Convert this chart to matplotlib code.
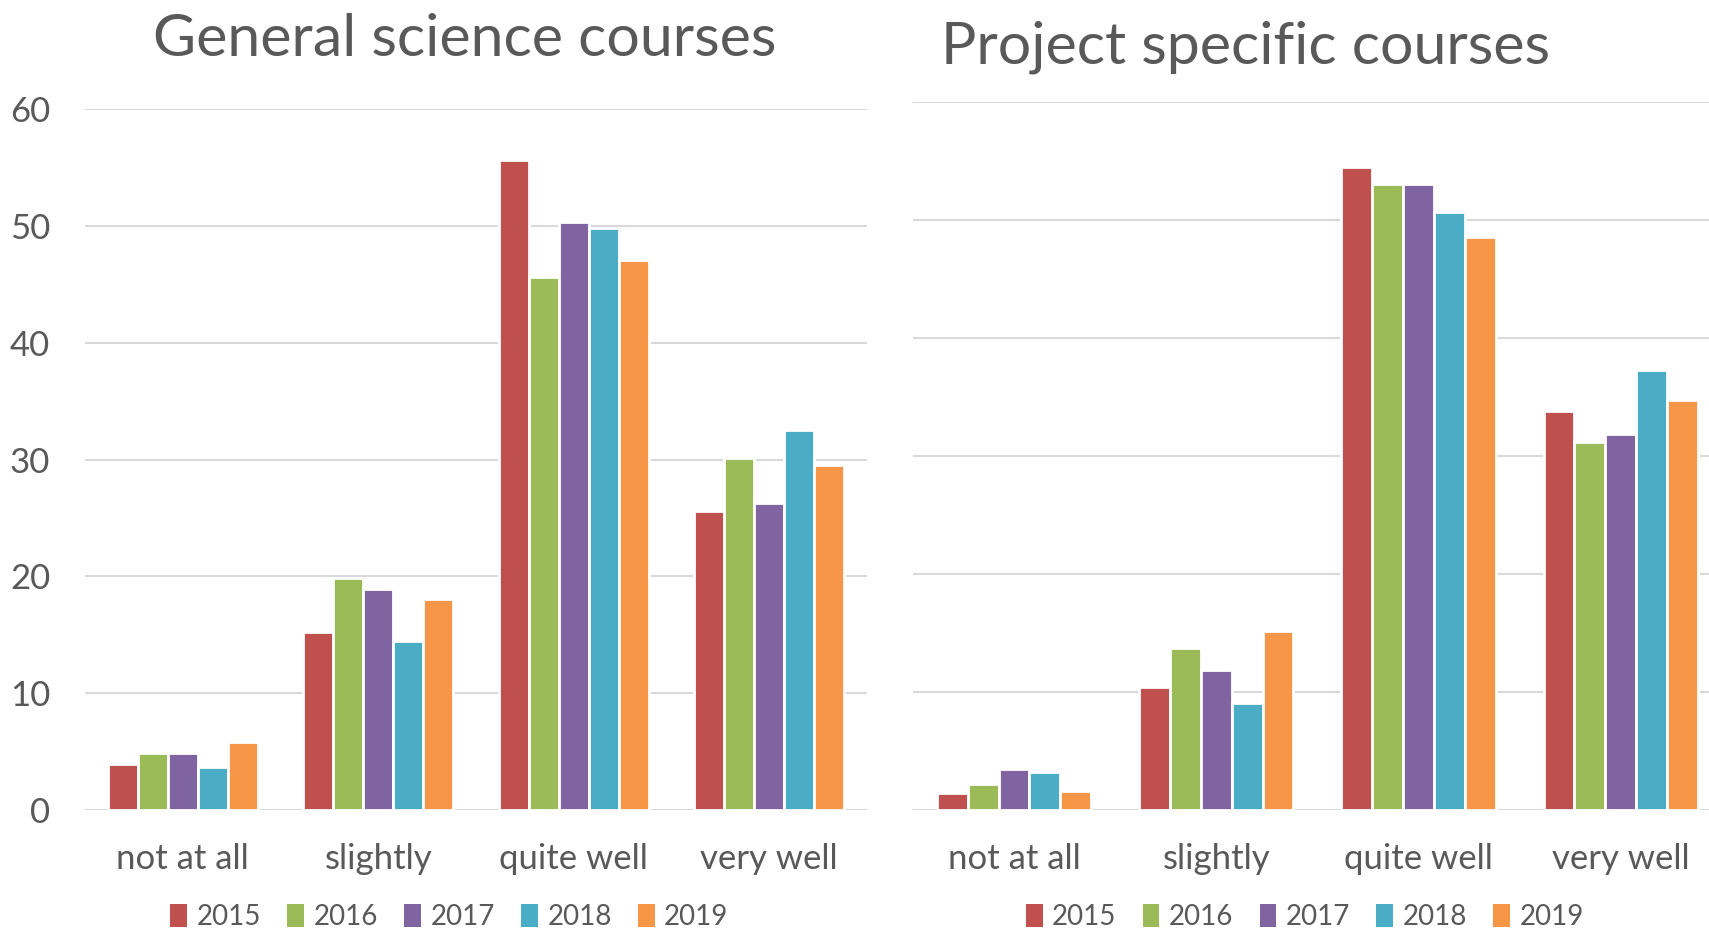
import matplotlib
matplotlib.use("Agg")
import matplotlib.pyplot as plt
import numpy as np
from matplotlib.patches import Patch

plt.rcParams['font.family'] = ['Lato', 'DejaVu Sans']

categories = ["not at all", "slightly", "quite well", "very well"]
years = ["2015", "2016", "2017", "2018", "2019"]
colors = ["#C0504D", "#9BBB59", "#8064A2", "#4BACC6", "#F79646"]

general = {
    "2015": [3.9, 15.2, 55.6, 25.6],
    "2016": [4.9, 19.9, 45.6, 30.1],
    "2017": [4.9, 18.9, 50.3, 26.3],
    "2018": [3.7, 14.5, 49.8, 32.5],
    "2019": [5.8, 18.1, 47.1, 29.5],
}
project = {
    "2015": [1.4, 10.4, 54.5, 33.8],
    "2016": [2.2, 13.7, 53.1, 31.2],
    "2017": [3.5, 11.9, 53.1, 31.9],
    "2018": [3.2, 9.1, 50.7, 37.3],
    "2019": [1.6, 15.2, 48.6, 34.8],
}
yticks = [0, 10, 20, 30, 40, 50, 60]

TXT = "#595959"
GRID = "#D9D9D9"

fig = plt.figure(figsize=(17.09, 9.35), dpi=100)

def draw(ax, data, slot, show_y):
    x = np.arange(len(categories))
    for i, (yr, c) in enumerate(zip(years, colors)):
        off = (i - 2) * slot
        ax.bar(x + off, data[yr], width=slot, color=c, edgecolor="white",
               linewidth=2.0, zorder=3)
    ax.set_xlim(-0.5, len(categories) - 0.5)
    ax.set_ylim(0, 60)
    ax.set_yticks(yticks)
    ax.yaxis.grid(True, color=GRID, linewidth=1.5, zorder=0)
    ax.set_axisbelow(True)
    for s in ax.spines.values():
        s.set_visible(False)
    ax.set_xticks(x)
    ax.set_xticklabels(categories, fontsize=25, color=TXT)
    ax.tick_params(axis='x', length=0, pad=24)
    if show_y:
        ax.tick_params(axis='y', length=0, pad=25, labelsize=25, labelcolor=TXT)
    else:
        ax.tick_params(axis='y', length=0, labelleft=False)

ax1 = fig.add_axes([0.0497, 0.1337, 0.4576, 0.7497])
draw(ax1, general, 0.1534, True)
ax2 = fig.add_axes([0.5342, 0.1337, 0.4733, 0.7567])
draw(ax2, project, 0.1526, False)

fig.text(0.272, 0.958, "General science courses", ha="center", va="center",
         fontsize=42.5, color=TXT)
fig.text(0.7285, 0.950, "Project specific courses", ha="center", va="center",
         fontsize=42.5, color=TXT)

handles = [Patch(facecolor=c, edgecolor="none") for c in colors]
for cx in (0.263, 0.7636):
    fig.legend(handles, years, loc="center", bbox_to_anchor=(cx, 0.019),
               ncol=5, frameon=False, fontsize=20, labelcolor=TXT,
               handlelength=0.6, handleheight=0.9, handletextpad=0.35,
               columnspacing=0.94, borderaxespad=0)

fig.savefig("out.png", dpi=100, facecolor="white")
